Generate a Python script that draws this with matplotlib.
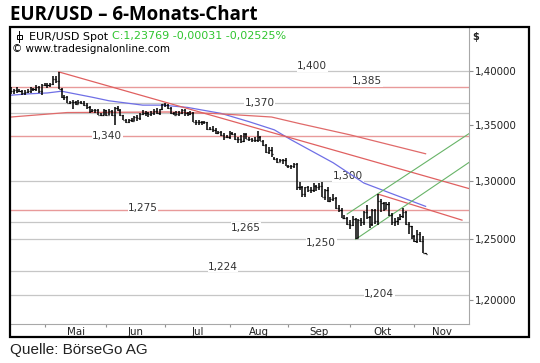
import matplotlib
matplotlib.use("Agg")
import matplotlib.pyplot as plt
import numpy as np
import pandas as pd
from matplotlib.patches import Rectangle
from matplotlib.lines import Line2D
from matplotlib.ticker import FixedLocator, NullLocator, NullFormatter

# daily bars EUR/USD, 15.04.2014 - 07.11.2014 (business days)
opens = [
    1.3810, 1.3815, 1.3820, 1.3815, 1.3810, 1.3795, 1.3805, 1.3815, 1.3830, 1.3830, 1.3855, 1.3810,
    1.3870, 1.3870, 1.3870, 1.3875, 1.3925, 1.3905, 1.3835, 1.3755, 1.3760, 1.3705, 1.3710, 1.3710,
    1.3695, 1.3710, 1.3705, 1.3685, 1.3665, 1.3630, 1.3635, 1.3635, 1.3595, 1.3595,
    1.3635, 1.3595, 1.3630, 1.3595, 1.3660, 1.3640, 1.3590, 1.3545, 1.3530, 1.3545, 1.3540, 1.3570,
    1.3565, 1.3600, 1.3610, 1.3610, 1.3605, 1.3610, 1.3630, 1.3615, 1.3645,
    1.3690, 1.3680, 1.3655, 1.3610, 1.3595, 1.3605, 1.3615, 1.3640, 1.3610, 1.3605, 1.3615, 1.3530,
    1.3525, 1.3525, 1.3525, 1.3525, 1.3465, 1.3465, 1.3460, 1.3430, 1.3440, 1.3410, 1.3395,
    1.3390, 1.3425, 1.3415, 1.3375, 1.3375, 1.3360, 1.3415, 1.3375, 1.3370, 1.3365, 1.3365, 1.3395,
    1.3360, 1.3320, 1.3255, 1.3280, 1.3200, 1.3195, 1.3170, 1.3190, 1.3185,
    1.3130, 1.3130, 1.3130, 1.3150, 1.2945, 1.2950, 1.2890, 1.2945, 1.2920, 1.2925, 1.2960, 1.2945,
    1.2960, 1.2865, 1.2920, 1.2830, 1.2845, 1.2850, 1.2765, 1.2750, 1.2685, 1.2685,
    1.2630, 1.2620, 1.2670, 1.2515, 1.2660, 1.2645, 1.2735, 1.2690, 1.2630, 1.2750, 1.2655, 1.2830,
    1.2810, 1.2760, 1.2800, 1.2710, 1.2645, 1.2655, 1.2670, 1.2700, 1.2735, 1.2630, 1.2610,
    1.2525, 1.2485, 1.2545, 1.2490, 1.2385,
]
highs = [
    1.3850, 1.3830, 1.3850, 1.3830, 1.3820, 1.3820, 1.3835, 1.3850, 1.3845, 1.3870, 1.3860, 1.3880,
    1.3890, 1.3890, 1.3890, 1.3950, 1.3950, 1.3993, 1.3845, 1.3775, 1.3770, 1.3725, 1.3735, 1.3720,
    1.3735, 1.3725, 1.3720, 1.3700, 1.3675, 1.3650, 1.3650, 1.3645, 1.3610, 1.3650,
    1.3640, 1.3650, 1.3640, 1.3670, 1.3675, 1.3645, 1.3595, 1.3555, 1.3560, 1.3565, 1.3580, 1.3590,
    1.3615, 1.3640, 1.3625, 1.3620, 1.3625, 1.3645, 1.3655, 1.3650, 1.3695,
    1.3700, 1.3690, 1.3665, 1.3620, 1.3625, 1.3630, 1.3650, 1.3650, 1.3620, 1.3630, 1.3620, 1.3545,
    1.3545, 1.3540, 1.3535, 1.3530, 1.3480, 1.3490, 1.3470, 1.3445, 1.3445, 1.3425, 1.3410,
    1.3445, 1.3435, 1.3425, 1.3390, 1.3410, 1.3430, 1.3425, 1.3395, 1.3385, 1.3390, 1.3445, 1.3400,
    1.3365, 1.3325, 1.3300, 1.3300, 1.3215, 1.3200, 1.3195, 1.3195, 1.3200,
    1.3145, 1.3140, 1.3160, 1.3160, 1.2990, 1.2955, 1.2950, 1.2955, 1.2945, 1.2980, 1.2970, 1.2985,
    1.2995, 1.2935, 1.2945, 1.2865, 1.2885, 1.2860, 1.2790, 1.2765, 1.2705, 1.2690,
    1.2660, 1.2700, 1.2680, 1.2670, 1.2680, 1.2745, 1.2790, 1.2700, 1.2760, 1.2755, 1.2887, 1.2845,
    1.2815, 1.2815, 1.2815, 1.2720, 1.2680, 1.2690, 1.2715, 1.2770, 1.2745, 1.2645, 1.2615,
    1.2535, 1.2575, 1.2560, 1.2530, 1.2388,
]
lows = [
    1.3790, 1.3790, 1.3800, 1.3805, 1.3780, 1.3780, 1.3795, 1.3800, 1.3810, 1.3815, 1.3800, 1.3775,
    1.3860, 1.3845, 1.3855, 1.3870, 1.3890, 1.3830, 1.3750, 1.3735, 1.3700, 1.3690, 1.3650, 1.3680,
    1.3690, 1.3690, 1.3675, 1.3650, 1.3615, 1.3620, 1.3610, 1.3590, 1.3585, 1.3590,
    1.3585, 1.3590, 1.3585, 1.3503, 1.3625, 1.3585, 1.3545, 1.3520, 1.3515, 1.3525, 1.3535, 1.3540,
    1.3545, 1.3590, 1.3585, 1.3570, 1.3585, 1.3595, 1.3605, 1.3595, 1.3640,
    1.3665, 1.3645, 1.3600, 1.3590, 1.3590, 1.3585, 1.3600, 1.3585, 1.3585, 1.3590, 1.3525, 1.3505,
    1.3505, 1.3505, 1.3510, 1.3460, 1.3455, 1.3440, 1.3420, 1.3420, 1.3400, 1.3365, 1.3380,
    1.3375, 1.3410, 1.3365, 1.3335, 1.3335, 1.3350, 1.3370, 1.3360, 1.3345, 1.3345, 1.3350, 1.3355,
    1.3315, 1.3245, 1.3240, 1.3215, 1.3185, 1.3160, 1.3165, 1.3150, 1.3130,
    1.3115, 1.3110, 1.3115, 1.2920, 1.2920, 1.2860, 1.2860, 1.2905, 1.2895, 1.2905, 1.2915, 1.2920,
    1.2860, 1.2835, 1.2815, 1.2815, 1.2825, 1.2760, 1.2730, 1.2680, 1.2670, 1.2620,
    1.2585, 1.2610, 1.2500, 1.2510, 1.2610, 1.2620, 1.2675, 1.2600, 1.2615, 1.2630, 1.2625, 1.2735,
    1.2740, 1.2755, 1.2700, 1.2625, 1.2615, 1.2625, 1.2665, 1.2685, 1.2620, 1.2545, 1.2500,
    1.2475, 1.2470, 1.2480, 1.2385, 1.2375,
]
closes = [
    1.3815, 1.3820, 1.3815, 1.3810, 1.3795, 1.3805, 1.3815, 1.3830, 1.3830, 1.3855, 1.3810, 1.3870,
    1.3870, 1.3870, 1.3875, 1.3925, 1.3905, 1.3835, 1.3755, 1.3760, 1.3705, 1.3710, 1.3710, 1.3695,
    1.3710, 1.3705, 1.3685, 1.3665, 1.3630, 1.3635, 1.3635, 1.3595, 1.3595, 1.3635,
    1.3595, 1.3630, 1.3595, 1.3660, 1.3640, 1.3590, 1.3545, 1.3530, 1.3545, 1.3540, 1.3570, 1.3565,
    1.3600, 1.3610, 1.3610, 1.3605, 1.3610, 1.3630, 1.3615, 1.3645, 1.3690,
    1.3680, 1.3655, 1.3610, 1.3595, 1.3605, 1.3615, 1.3640, 1.3610, 1.3605, 1.3615, 1.3530, 1.3525,
    1.3525, 1.3525, 1.3525, 1.3465, 1.3465, 1.3460, 1.3430, 1.3440, 1.3410, 1.3395, 1.3390,
    1.3425, 1.3415, 1.3375, 1.3375, 1.3360, 1.3415, 1.3375, 1.3370, 1.3365, 1.3365, 1.3395, 1.3360,
    1.3320, 1.3255, 1.3280, 1.3240, 1.3195, 1.3170, 1.3190, 1.3185, 1.3130,
    1.3130, 1.3130, 1.3150, 1.2945, 1.2950, 1.2890, 1.2945, 1.2920, 1.2925, 1.2960, 1.2945, 1.2960,
    1.2865, 1.2920, 1.2830, 1.2845, 1.2850, 1.2765, 1.2750, 1.2685, 1.2685, 1.2630,
    1.2620, 1.2670, 1.2515, 1.2660, 1.2645, 1.2735, 1.2690, 1.2630, 1.2750, 1.2655, 1.2830, 1.2810,
    1.2760, 1.2800, 1.2710, 1.2645, 1.2655, 1.2670, 1.2700, 1.2735, 1.2630, 1.2610, 1.2525,
    1.2485, 1.2545, 1.2490, 1.2385, 1.2377,
]

# moving averages (bar number, value)
ma_fast_bar = [1, 7, 14, 19, 30, 36, 48, 55, 64, 76, 86, 95, 101, 116, 127, 138, 149]
ma_fast = [1.3775, 1.3787, 1.3796, 1.3812, 1.3756, 1.3723, 1.3683, 1.3683, 1.3662, 1.3607,
           1.3531, 1.3457, 1.3367, 1.3162, 1.2983, 1.2881, 1.2781]
ma_slow_bar = [1, 21, 57, 73, 94, 104, 122, 149]
ma_slow = [1.3574, 1.3615, 1.3620, 1.3607, 1.3574, 1.3514, 1.3412, 1.3242]

# trend lines (start bar, start value, end bar, end value)
red_trends = [(18, 1.3993, 164.5, 1.2935), (132, 1.2887, 162, 1.2663)]
green_trends = [(121, 1.2715, 164.5, 1.3423), (124, 1.2500, 164.5, 1.3165)]

grey_levels = [1.400, 1.370, 1.361, 1.300, 1.265, 1.250, 1.224, 1.204]
red_levels = [1.385, 1.340, 1.275]

level_text = ["1,400", "1,385", "1,370", "1,340", "1,300", "1,275", "1,265", "1,250", "1,224", "1,204"]
level_text_bar = [108.5, 128.1, 89.7, 35.3, 121.3, 48.1, 84.9, 111.7, 76.7, 132.4]
level_text_val = [1.4047, 1.3906, 1.3700, 1.3398, 1.3041, 1.2770, 1.2599, 1.2471, 1.2271, 1.2049]

month_names = ["Mai", "Jun", "Jul", "Aug", "Sep", "Okt", "Nov"]
y_ticks = [1.20, 1.25, 1.30, 1.35, 1.40]

days = pd.bdate_range("2014-04-14", "2014-12-01")
bar_x = np.arange(1, len(closes) + 1)
month_start = [i for i in range(1, len(days)) if days[i].month != days[i - 1].month]
month_mid = [(a + b) / 2 for a, b in zip(month_start[:-1], month_start[1:])]

W, H = 540, 363
fig = plt.figure(figsize=(W / 100, H / 100), dpi=100)
ax = fig.add_axes([10.5 / W, 1 - 324 / H, (469 - 10.5) / W, (324 - 28) / H])
ax.set_yscale("log")
ax.set_xlim(0.79, 164.5)
ax.set_ylim(1.1807, 1.4413)

for v in grey_levels:
    ax.axhline(v, color="#c6c6c6", lw=0.9, zorder=1)
for v in red_levels:
    ax.axhline(v, color="#e89a9a", lw=1.0, zorder=1)

for t, bx, by in zip(level_text, level_text_bar, level_text_val):
    ax.text(bx, by, t, fontsize=7.6, color="#333333", ha="center", va="center", zorder=2,
            bbox=dict(facecolor="white", edgecolor="none", pad=0.3))

ax.plot(ma_fast_bar, ma_fast, color="#6f6fe6", lw=0.9, zorder=3)
ax.plot(ma_slow_bar, ma_slow, color="#e06a6a", lw=0.9, zorder=3)
for x0, y0, x1, y1 in red_trends:
    ax.plot([x0, x1], [y0, y1], color="#e06060", lw=0.9, zorder=3)
for x0, y0, x1, y1 in green_trends:
    ax.plot([x0, x1], [y0, y1], color="#68b468", lw=0.8, zorder=3)

# OHLC bars
ax.vlines(bar_x, lows, highs, color="black", lw=1.1, zorder=4)
ax.hlines(opens, bar_x - 0.4, bar_x, color="black", lw=0.9, zorder=4)
ax.hlines(closes, bar_x, bar_x + 0.4, color="black", lw=0.9, zorder=4)

ax.yaxis.tick_right()
ax.yaxis.set_major_locator(FixedLocator(y_ticks))
ax.yaxis.set_minor_locator(NullLocator())
ax.yaxis.set_minor_formatter(NullFormatter())
ax.set_yticklabels([f"{v:.5f}".replace(".", ",") for v in y_ticks])
ax.tick_params(axis="y", length=3, width=0.8, color="#909090", labelsize=7.4,
               labelcolor="#222222", pad=1.5)

ax.xaxis.set_major_locator(FixedLocator(month_mid))
ax.set_xticklabels(month_names)
ax.xaxis.set_minor_locator(FixedLocator(month_start[:-1]))
ax.tick_params(axis="x", which="major", length=0, labelsize=7.4, labelcolor="#222222", pad=2)
ax.tick_params(axis="x", which="minor", length=2, width=0.8, color="#909090")

for s in ["left", "top"]:
    ax.spines[s].set_visible(False)
for s in ["right", "bottom"]:
    ax.spines[s].set_color("#a8a8a8")
    ax.spines[s].set_linewidth(0.8)

# outer frame
fig.add_artist(Rectangle((10 / W, 1 - 337 / H), 519 / W, 310 / H, transform=fig.transFigure,
                         fill=False, edgecolor="black", lw=1.6, zorder=10))

# header inside chart
fig.add_artist(Line2D([19 / W, 19 / W], [1 - 31 / H, 1 - 42 / H], color="black", lw=0.7))
fig.add_artist(Rectangle((16.5 / W, 1 - 39 / H), 5 / W, 4 / H, transform=fig.transFigure,
                         fill=False, edgecolor="black", lw=0.7))
t1 = fig.text(29 / W, 1 - 36.5 / H, "EUR/USD Spot ", fontsize=8, color="black", va="center")
ax.annotate("C:1,23769 -0,00031 -0,02525%", xy=(1, 0.5), xycoords=t1, va="center",
            fontsize=8, color="#2fc52f", annotation_clip=False)
fig.text(12 / W, 1 - 49.5 / H, "© www.tradesignalonline.com", fontsize=7.5, color="black", va="center")
fig.text(472 / W, 1 - 37 / H, "$", fontsize=7, color="#222222", weight="bold", va="center")

fig.text(10 / W, 1 - 15 / H, "EUR/USD – 6-Monats-Chart", fontsize=13.5, weight="bold",
         family=["Open Sans", "DejaVu Sans"], va="center")
fig.text(10 / W, 1 - 350 / H, "Quelle: BörseGo AG", fontsize=11, color="#222222",
         family=["Liberation Sans", "DejaVu Sans"], va="center")

fig.savefig("out.png", dpi=100)
